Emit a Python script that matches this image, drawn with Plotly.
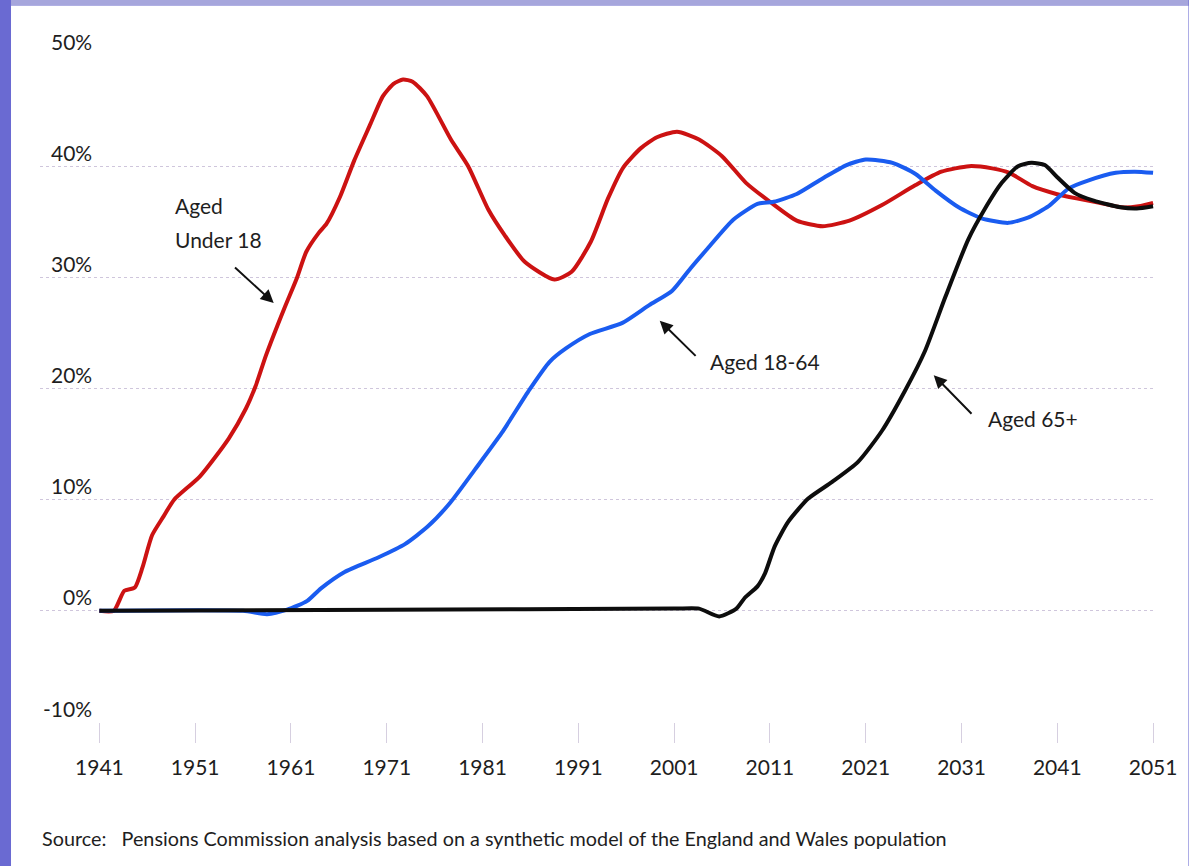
import plotly.graph_objs as go

# Pensions Commission: population change by age group (% change since 1941)
under18_years = [1941, 1942.5, 1943.6, 1944.7, 1945.5, 1946.5, 1947.7, 1948.8, 1951.5, 1954.5,
                 1956.3, 1957.3, 1958.4, 1960.3, 1961.6, 1962.6, 1963.9, 1964.7, 1966.1, 1967.6,
                 1969.3, 1970.6, 1971.7, 1972.7, 1973.7, 1975.2, 1977.7, 1979.5, 1981.6, 1983.3,
                 1985.4, 1988.5, 1990.3, 1992.3, 1994.1, 1995.7, 1997.5, 1999.2, 2001.3, 2003.6,
                 2006.0, 2008.5, 2011.0, 2013.8, 2016.5, 2019.3, 2022.7, 2026.2, 2028.9, 2031.8,
                 2034.2, 2036.0, 2038.4, 2040.9, 2043.0, 2045.4, 2047.7, 2049.5, 2051]
under18_pct = [0, 0, 1.8, 2.1, 3.9, 6.8, 8.5, 10.0, 12.1, 15.5,
               18.2, 20.2, 23.0, 27.2, 29.9, 32.3, 34.0, 34.8, 37.2, 40.5,
               43.8, 46.3, 47.4, 47.8, 47.6, 46.3, 42.4, 40.0, 36.1, 33.8,
               31.4, 29.8, 30.5, 33.2, 37.1, 39.9, 41.6, 42.6, 43.1, 42.4,
               40.9, 38.5, 36.8, 35.1, 34.6, 35.1, 36.5, 38.3, 39.5, 40.0,
               39.8, 39.4, 38.2, 37.5, 37.1, 36.7, 36.3, 36.4, 36.7]

age18_64_years = [1941, 1956, 1958.5, 1960.6, 1962.7, 1964.1, 1966.6, 1970.1, 1972.9, 1975.3,
                  1977.6, 1980.2, 1983.0, 1985.9, 1988.0, 1989.7, 1992.2, 1995.6, 1998.4, 2000.8,
                  2002.7, 2004.4, 2007.2, 2009.7, 2011.4, 2013.8, 2016.5, 2019.0, 2021.0, 2023.8,
                  2026.2, 2028.3, 2030.7, 2033.1, 2035.9, 2038.0, 2040.1, 2042.2, 2044.2, 2047.1,
                  2049.1, 2051]
age18_64_pct = [0, 0, -0.3, 0.1, 0.9, 2.0, 3.5, 4.8, 6.0, 7.6,
                9.7, 12.7, 16.0, 19.9, 22.4, 23.6, 24.9, 25.9, 27.5, 28.8,
                30.8, 32.5, 35.2, 36.6, 36.8, 37.5, 38.9, 40.1, 40.6, 40.3,
                39.3, 37.8, 36.3, 35.3, 34.9, 35.4, 36.4, 38.0, 38.7, 39.4,
                39.5, 39.4]

age65_years = [1941, 1971, 2001, 2003.6, 2005.7, 2007.5, 2008.4, 2009.7, 2010.5, 2011.5,
               2012.9, 2015.0, 2017.5, 2020.2, 2022.7, 2025.1, 2027.2, 2029.3, 2031.7, 2033.4,
               2035.2, 2036.9, 2038.3, 2039.7, 2041.0, 2042.8, 2044.8, 2047.6, 2049.3, 2051]
age65_pct = [0, 0.1, 0.2, 0.2, -0.5, 0.2, 1.2, 2.2, 3.4, 5.8,
             8.0, 10.1, 11.6, 13.4, 16.2, 19.8, 23.4, 28.2, 33.4, 36.1,
             38.5, 40.0, 40.3, 40.1, 39.0, 37.6, 36.9, 36.3, 36.2, 36.4]

x_ticks = [1941, 1951, 1961, 1971, 1981, 1991, 2001, 2011, 2021, 2031, 2041, 2051]
y_ticks = [-10, 0, 10, 20, 30, 40, 50]
y_tick_text = ["-10%", "0%", "10%", "20%", "30%", "40%", "50%"]

# label text, arrow head (year, %), arrow tail (year, %)
labels = ["Aged 18-64", "Aged 65+"]
label_pos = [(2004.5, 22.4), (2033.6, 17.3)]
arrow_heads = [(1959.2, 27.7), (1999.5, 26.1), (2028.1, 21.2)]
arrow_tails = [(1955.0, 31.0), (2003.4, 22.8), (2032.2, 17.6)]

FONT = "Lato, 'Open Sans', sans-serif"
TXT = "#1e1e1e"

fig = go.Figure()
series = [
    (under18_years, under18_pct, "#cc1212", "Aged Under 18"),
    (age18_64_years, age18_64_pct, "#1a5cf0", "Aged 18-64"),
    (age65_years, age65_pct, "#0d0d0d", "Aged 65+"),
]
for xs, ys, col, name in series:
    fig.add_trace(go.Scatter(x=xs, y=ys, mode="lines", name=name,
                             line=dict(color=col, width=4, shape="spline", smoothing=0.6),
                             cliponaxis=False))

ann = []
for v, t in zip(y_ticks, y_tick_text):
    ann.append(dict(x=x_ticks[0], y=v, xref="x", yref="y", text=t, showarrow=False,
                    xanchor="right", yanchor="middle", xshift=-5, yshift=14,
                    font=dict(size=21, color=TXT, family=FONT)))
for (hx, hy), (tx, ty) in zip(arrow_heads, arrow_tails):
    ann.append(dict(x=hx, y=hy, ax=tx, ay=ty, xref="x", yref="y", axref="x", ayref="y",
                    text="", showarrow=True, arrowhead=2, arrowsize=1.3, arrowwidth=2,
                    arrowcolor="#111", standoff=0))
for t, (lx, ly) in zip(labels, label_pos):
    ann.append(dict(x=lx, y=ly, xref="x", yref="y", text=t, showarrow=False,
                    xanchor="left", yanchor="middle",
                    font=dict(size=21, color=TXT, family=FONT)))
ann.append(dict(x=1948.7, y=36.5, xref="x", yref="y", text="Aged", showarrow=False,
                xanchor="left", yanchor="middle", font=dict(size=21, color=TXT, family=FONT)))
ann.append(dict(x=1948.7, y=33.4, xref="x", yref="y", text="Under 18", showarrow=False,
                xanchor="left", yanchor="middle", font=dict(size=21, color=TXT, family=FONT)))
ann.append(dict(x=0, y=-0.174, xref="paper", yref="paper", showarrow=False,
                text="Source:\u00a0\u00a0\u00a0Pensions Commission analysis based on a synthetic model "
                     "of the England and Wales population",
                xanchor="left", yanchor="middle", font=dict(size=19.8, color=TXT, family=FONT)))

fig.update_layout(
    width=1189,
    height=866,
    margin=dict(l=40, r=29, t=55, b=144),
    paper_bgcolor="#6a6ad2",
    plot_bgcolor="white",
    showlegend=False,
    annotations=ann,
    shapes=[
        dict(type="rect", xref="paper", yref="paper", x0=-0.026, x1=1.03, y0=1.074, y1=1.09,
             fillcolor="#a6a6dc", line_width=0, layer="below"),
        dict(type="rect", xref="paper", yref="paper", x0=-0.026, x1=1.03, y0=-0.22, y1=1.074,
             fillcolor="white", line_width=0, layer="below"),
    ],
    xaxis=dict(range=[1934.8, 2051.2], tickvals=x_ticks, ticktext=[str(y) for y in x_ticks],
               showgrid=False, zeroline=False, showline=False, ticks="outside", ticklen=20,
               tickcolor="#d6cfe0", tickwidth=1, ticklabelstandoff=7,
               tickfont=dict(size=21, color=TXT, family=FONT)),
    yaxis=dict(range=[-10, 50], tickvals=y_ticks, showticklabels=False, showgrid=True,
               gridcolor="#cfc6dc", griddash="dot", gridwidth=1, zeroline=False,
               showline=False, ticks=""),
)

fig.write_html("out.html", config={"displayModeBar": False},
               post_script="document.body.style.margin='0';")
